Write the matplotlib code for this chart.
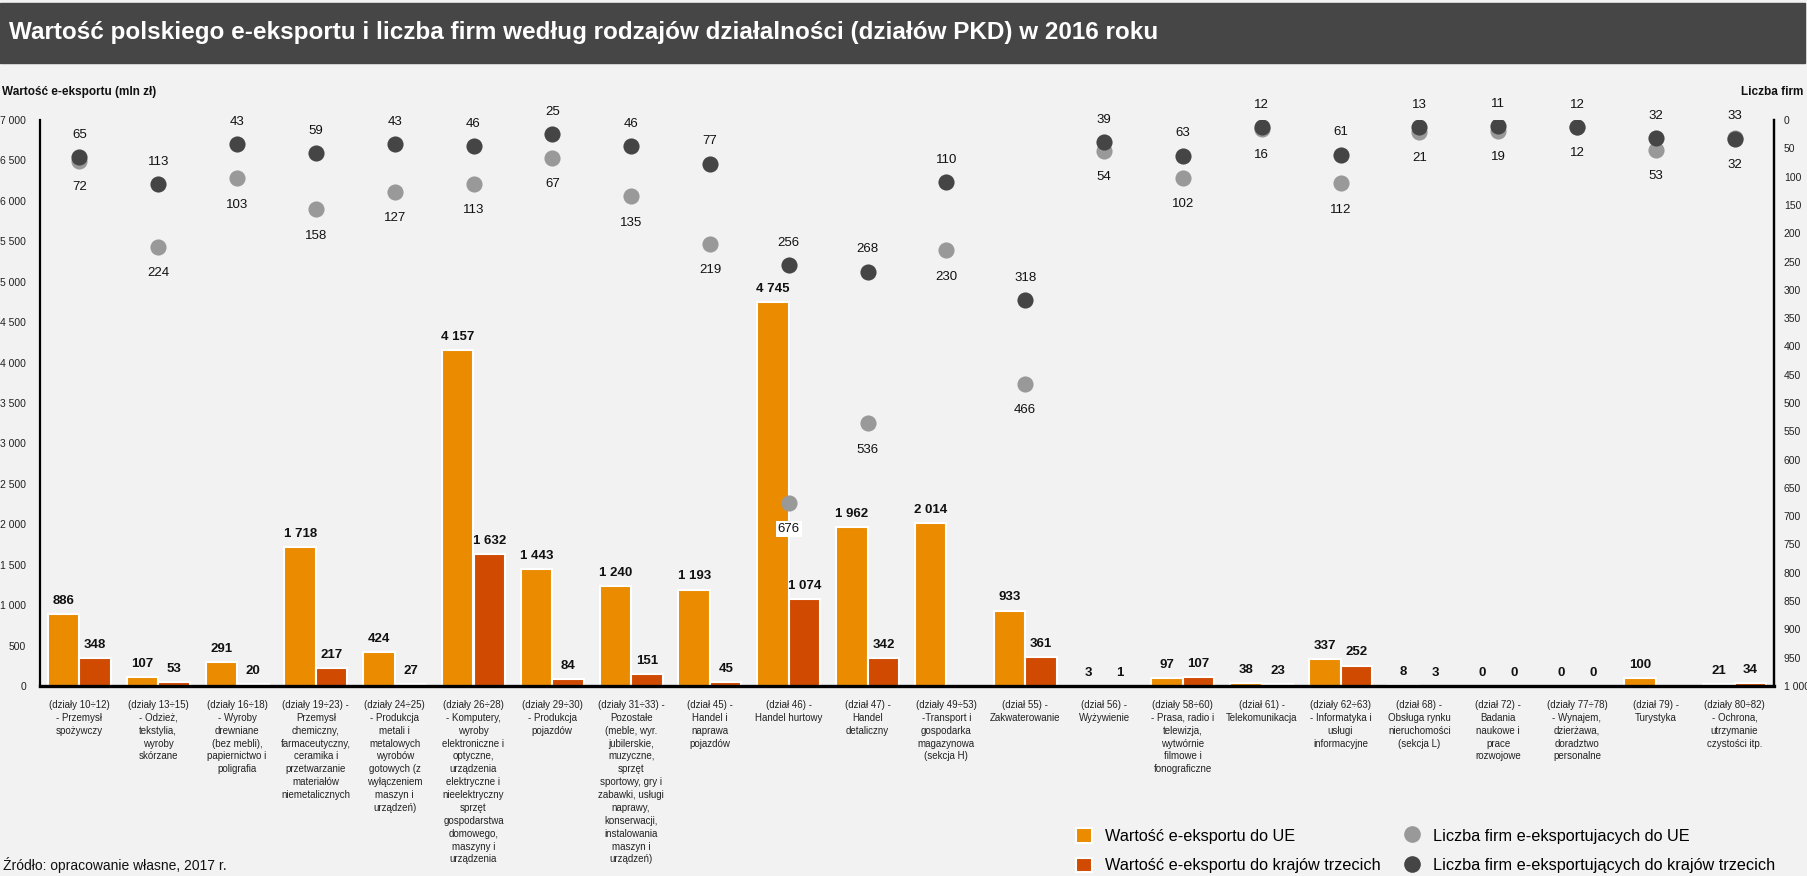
import matplotlib.pyplot as plt
import numpy as np
from matplotlib.patches import Rectangle, Patch
from matplotlib.lines import Line2D

plt.rcParams['font.family'] = ['Liberation Sans', 'DejaVu Sans']

categories = [
    "(działy 10÷12)\n- Przemysł\nspożywczy",
    "(działy 13÷15)\n- Odzież,\ntekstylia,\nwyroby\nskórzane",
    "(działy 16÷18)\n- Wyroby\ndrewniane\n(bez mebli),\npapiernictwo i\npoligrafia",
    "(działy 19÷23) -\nPrzemysł\nchemiczny,\nfarmaceutyczny,\nceramika i\nprzetwarzanie\nmateriałów\nniemetalicznych",
    "(działy 24÷25)\n- Produkcja\nmetali i\nmetalowych\nwyrobów\ngotowych (z\nwyłączeniem\nmaszyn i\nurządzeń)",
    "(działy 26÷28)\n- Komputery,\nwyroby\nelektroniczne i\noptyczne,\nurządzenia\nelektryczne i\nnieelektryczny\nsprzęt\ngospodarstwa\ndomowego,\nmaszyny i\nurządzenia",
    "(działy 29÷30)\n- Produkcja\npojazdów",
    "(działy 31÷33) -\nPozostałe\n(meble, wyr.\njubilerskie,\nmuzyczne,\nsprzęt\nsportowy, gry i\nzabawki, usługi\nnaprawy,\nkonserwacji,\ninstalowania\nmaszyn i\nurządzeń)",
    "(dział 45) -\nHandel i\nnaprawa\npojazdów",
    "(dział 46) -\nHandel hurtowy",
    "(dział 47) -\nHandel\ndetaliczny",
    "(działy 49÷53)\n-Transport i\ngospodarka\nmagazynowa\n(sekcja H)",
    "(dział 55) -\nZakwaterowanie",
    "(dział 56) -\nWyżywienie",
    "(działy 58÷60)\n- Prasa, radio i\ntelewizja,\nwytwórnie\nfilmowe i\nfonograficzne",
    "(dział 61) -\nTelekomunikacja",
    "(działy 62÷63)\n- Informatyka i\nusługi\ninformacyjne",
    "(dział 68) -\nObsługa rynku\nnieruchomości\n(sekcja L)",
    "(dział 72) -\nBadania\nnaukowe i\nprace\nrozwojowe",
    "(działy 77÷78)\n- Wynajem,\ndzierżawa,\ndoradztwo\npersonalne",
    "(dział 79) -\nTurystyka",
    "(działy 80÷82)\n- Ochrona,\nutrzymanie\nczystości itp.",
]

# wartość e-eksportu (mln zł)
export_ue = [886, 107, 291, 1718, 424, 4157, 1443, 1240, 1193, 4745, 1962,
             2014, 933, 3, 97, 38, 337, 8, 0, 0, 100, 21]
export_third = [348, 53, 20, 217, 27, 1632, 84, 151, 45, 1074, 342,
                np.nan, 361, 1, 107, 23, 252, 3, 0, 0, np.nan, 34]

# liczba firm
firms_ue = [72, 224, 103, 158, 127, 113, 67, 135, 219, 676, 536,
            230, 466, 54, 102, 16, 112, 21, 19, 12, 53, 32]
firms_third = [65, 113, 43, 59, 43, 46, 25, 46, 77, 256, 268,
               110, 318, 39, 63, 12, 61, 13, 11, 12, 32, 33]

left_ticks = np.arange(0, 7001, 500)
right_ticks = np.arange(0, 1001, 50)

c_ue = '#EB8C00'
c_third = '#D04A02'
c_dot_ue = '#999999'
c_dot_third = '#454545'
bg = '#F2F2F2'


def fmt(v):
    return f"{int(v):,}".replace(',', ' ')


W, H = 1808, 876
fig = plt.figure(figsize=(W / 100, H / 100), dpi=100, facecolor=bg)

# pasek tytułu
fig.patches.append(Rectangle((0, 1 - 63 / H), 1805 / W, 60 / H,
                             transform=fig.transFigure, color='#464646', zorder=0))
fig.text(9 / W, 1 - 33 / H,
         'Wartość polskiego e-eksportu i liczba firm według rodzajów działalności (działów PKD) w 2016 roku',
         color='white', fontsize=17.5, fontweight='bold', va='center', ha='left')

ax = fig.add_axes([40 / W, 1 - 686 / H, (1774 - 40) / W, (686 - 120) / H])
ax.set_facecolor(bg)
x = np.arange(len(categories))
bw = 0.4

ax.bar(x - bw / 2, export_ue, bw, color=c_ue, edgecolor='white', linewidth=1.5)
ax.bar(x + bw / 2, export_third, bw, color=c_third, edgecolor='white', linewidth=1.5)

for xi, v in zip(x, export_ue):
    if not np.isnan(v):
        ax.annotate(fmt(v), (xi - bw / 2, v), xytext=(0, 9.5), textcoords='offset points',
                    ha='center', va='center', fontsize=9.5, fontweight='bold', color='#111111')
for xi, v in zip(x, export_third):
    if not np.isnan(v):
        ax.annotate(fmt(v), (xi + bw / 2, v), xytext=(0, 9.5), textcoords='offset points',
                    ha='center', va='center', fontsize=9.5, fontweight='bold', color='#111111')

ax.set_xlim(-0.5, len(categories) - 0.5)
ax.set_ylim(0, 7000)
ax.set_yticks(left_ticks)
ax.set_yticklabels([fmt(t) for t in left_ticks])
ax.set_xticks(x)
ax.set_xticklabels(categories, fontsize=7, color='#222222', linespacing=1.36)
ax.tick_params(axis='x', length=0, pad=10)
ax.tick_params(axis='y', length=0, pad=10, labelsize=7.5, labelcolor='#222222')
ax.spines['top'].set_visible(False)
ax.spines['left'].set_linewidth(1.6)
ax.spines['bottom'].set_linewidth(2.4)
ax.spines['right'].set_linewidth(1.6)

ax2 = ax.twinx()
ax2.set_ylim(1000, 0)
ax2.set_yticks(right_ticks)
ax2.set_yticklabels([fmt(t) for t in right_ticks])
ax2.tick_params(axis='y', length=0, pad=7, labelsize=7.5, labelcolor='#222222')
ax2.spines['top'].set_visible(False)
ax2.spines['right'].set_linewidth(1.6)
ax2.spines['left'].set_visible(False)
ax2.spines['bottom'].set_visible(False)

ax2.scatter(x, firms_ue, s=135, color=c_dot_ue, zorder=3, linewidths=0)
ax2.scatter(x, firms_third, s=135, color=c_dot_third, zorder=4, linewidths=0)

for xi, v in zip(x, firms_ue):
    box = None
    if v > 600:
        box = dict(boxstyle='square,pad=0.15', fc='white', ec='none')
    ax2.annotate(str(v), (xi, v), xytext=(0, -19), textcoords='offset points',
                 ha='center', va='center', fontsize=9.5, color='#111111', bbox=box)
for xi, v in zip(x, firms_third):
    ax2.annotate(str(v), (xi, v), xytext=(0, 16), textcoords='offset points',
                 ha='center', va='center', fontsize=9.5, color='#111111')

fig.text(2 / W, 1 - 92 / H, 'Wartość e-eksportu (mln zł)', fontsize=8.5,
         fontweight='bold', ha='left', va='center', color='#111111')
fig.text(1803 / W, 1 - 92 / H, 'Liczba firm', fontsize=8.5,
         fontweight='bold', ha='right', va='center', color='#111111')

handles = [
    Patch(facecolor=c_ue, edgecolor='white', linewidth=1.5),
    Patch(facecolor=c_third, edgecolor='white', linewidth=1.5),
    Line2D([], [], marker='o', ls='', color=c_dot_ue, markersize=12, markeredgewidth=0),
    Line2D([], [], marker='o', ls='', color=c_dot_third, markersize=12, markeredgewidth=0),
]
labels = [
    'Wartość e-eksportu do UE',
    'Wartość e-eksportu do krajów trzecich',
    'Liczba firm e-eksportujacych do UE',
    'Liczba firm e-eksportujących do krajów trzecich',
]
fig.legend(handles, labels, ncol=2, loc='upper left',
           bbox_to_anchor=(1076 / W, 1 - 828 / H), frameon=False, fontsize=11.7,
           handlelength=1.0, handleheight=1.0, handletextpad=0.8,
           columnspacing=1.4, labelspacing=0.85, borderaxespad=0, borderpad=0)

fig.text(3 / W, 3 / H, 'Źródło: opracowanie własne, 2017 r.', fontsize=10,
         ha='left', va='bottom', color='#111111')

fig.savefig('out.png', dpi=100, facecolor=bg)
